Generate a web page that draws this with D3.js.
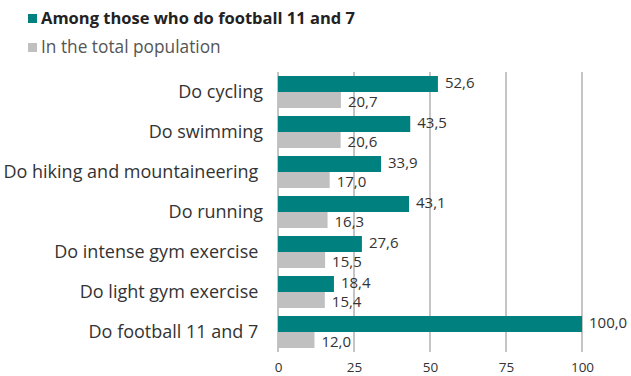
<!DOCTYPE html>
<html>
<head>
<meta charset="utf-8">
<script src="https://cdn.jsdelivr.net/npm/d3@7"></script>
<style>
  body { margin: 0; background: #fff; }
  svg text { font-family: "Open Sans", Lato, sans-serif; fill: #333; }
  .cat { white-space: pre; }
</style>
</head>
<body>
<svg id="chart"></svg>
<script>
var categories = [
  "Do cycling",
  "Do swimming",
  "Do hiking and mountaineering ",
  "Do running",
  "Do intense gym exercise ",
  "Do light gym exercise ",
  "Do football 11 and 7 "
];
var footballValues = [52.6, 43.5, 33.9, 43.1, 27.6, 18.4, 100.0];
var totalValues = [20.7, 20.6, 17.0, 16.3, 15.5, 15.4, 12.0];
var seriesNames = ["Among those who do football 11 and 7", "In the total population"];
var seriesColors = ["#00807f", "#c0c0c0"];
var xTicks = [0, 25, 50, 75, 100];

var screen = { width: 631, height: 376 };
var margins = { top: 72, bottom: 24, left: 278, right: 49 };
var graph = {
  width: screen.width - margins.left - margins.right,
  height: screen.height - margins.top - margins.bottom
};

var svg = d3.select("#chart").attr("width", screen.width).attr("height", screen.height);

var xScale = d3.scaleLinear().domain([0, 100]).range([0, graph.width]);
var yScale = d3.scaleBand().domain(categories).range([0, graph.height]).paddingInner(0.2).paddingOuter(0.1);
var subScale = d3.scaleBand().domain([0, 1]).range([0, yScale.bandwidth()]);

var fmt = function (v) { return v.toFixed(1).replace(".", ","); };

var g = svg.append("g").attr("transform", "translate(" + margins.left + "," + margins.top + ")");

// gridlines
g.selectAll("line.grid")
  .data(xTicks)
  .enter()
  .append("line")
  .attr("x1", function (d) { return xScale(d); })
  .attr("x2", function (d) { return xScale(d); })
  .attr("y1", 0)
  .attr("y2", graph.height)
  .attr("stroke", "#8a8a8a")
  .attr("stroke-width", 1);

// tick labels
var xAxis = d3.axisBottom(xScale).tickValues(xTicks).tickSize(0).tickPadding(10);
var xg = g.append("g").attr("transform", "translate(0," + graph.height + ")").call(xAxis);
xg.select(".domain").remove();
xg.selectAll("text").style("font-size", "13.5px").style("font-family", "'Open Sans', sans-serif").style("fill", "#333");

var series = [footballValues, totalValues];
var labelShift = [-1, 1.5];
series.forEach(function (vals, si) {
  var grp = g.append("g");
  grp.selectAll("rect")
    .data(vals)
    .enter()
    .append("rect")
    .attr("x", 0)
    .attr("y", function (d, i) { return yScale(categories[i]) + subScale(si); })
    .attr("width", function (d) { return xScale(d); })
    .attr("height", subScale.bandwidth())
    .attr("fill", seriesColors[si]);
  grp.selectAll("text")
    .data(vals)
    .enter()
    .append("text")
    .text(fmt)
    .attr("x", function (d) { return xScale(d) + 7; })
    .attr("y", function (d, i) { return yScale(categories[i]) + subScale(si) + subScale.bandwidth() / 2 + labelShift[si]; })
    .attr("dy", "0.35em")
    .style("font-size", "15px");
});

// category labels
g.selectAll("text.cat")
  .data(categories)
  .enter()
  .append("text")
  .classed("cat", true)
  .text(function (d) { return d; })
  .attr("x", -15)
  .attr("y", function (d) { return yScale(d) + yScale.bandwidth() / 2; })
  .attr("dy", "0.35em")
  .attr("text-anchor", "end")
  .style("font-size", "18px");

// legend
var legend = svg.append("g").attr("transform", "translate(28,14)");
seriesNames.forEach(function (name, i) {
  var row = legend.append("g").attr("transform", "translate(0," + i * 29 + ")");
  row.append("rect").attr("width", 9).attr("height", 9).attr("fill", seriesColors[i]);
  row.append("text")
    .text(name)
    .attr("x", 13)
    .attr("y", 10)
    .style("font-size", i === 0 ? "16.5px" : "17.3px")
    .style("font-weight", i === 0 ? "bold" : "normal")
    .style("fill", i === 0 ? "#222" : "#555");
});
</script>
</body>
</html>
